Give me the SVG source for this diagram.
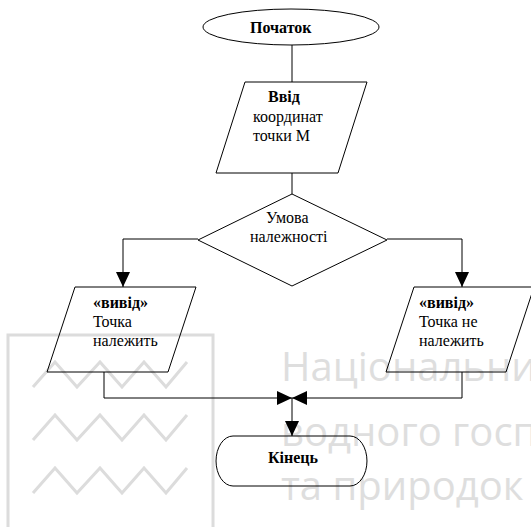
<svg xmlns="http://www.w3.org/2000/svg" width="531" height="527" viewBox="0 0 531 527">
  <style>
    .bg { fill: #ffffff; }
    .mark { fill: none; stroke: #dcdcdc; stroke-width: 3; stroke-linejoin: miter; }
    .mark-text { font-family: "Open Sans", "Noto Sans", sans-serif; font-size: 40px; fill: #dedede; }
    .shape { fill: none; stroke: #000000; stroke-width: 1; }
    .link { fill: none; stroke: #000000; stroke-width: 1; }
    .label { font-family: "Liberation Serif", "Times New Roman", serif; font-size: 16px; fill: #000000; }
    .bold { font-weight: bold; }
  </style>
  <defs>
    <marker id="arrow" markerUnits="userSpaceOnUse" markerWidth="15" markerHeight="14" refX="15" refY="7" orient="auto">
      <path d="M0,0 L15,7 L0,14 Z" fill="#000000"/>
    </marker>
  </defs>

  <rect class="bg" x="0" y="0" width="531" height="527"/>

  <!-- background emblem and lettering -->
  <g id="emblem">
    <rect class="mark" x="8" y="335" width="205" height="195"/>
    <polyline class="mark" points="33,387 55,362 77,387 100,362 122,387 144,362 166,387 187,362"/>
    <polyline class="mark" points="33,440 55,415 77,440 100,415 122,440 144,415 166,440 187,415"/>
    <polyline class="mark" points="33,493 55,468 77,493 100,468 122,493 144,468 166,493 187,468"/>
    <text class="mark-text" x="281" y="381">Національни</text>
    <text class="mark-text" x="281" y="446">водного госп</text>
    <text class="mark-text" x="281" y="500">та природок</text>
  </g>

  <!-- connectors -->
  <g id="connectors">
    <line class="link" x1="292" y1="45" x2="292" y2="82"/>
    <line class="link" x1="292" y1="173" x2="292" y2="194"/>
    <polyline class="link" points="198,239 123,239 123,287" marker-end="url(#arrow)"/>
    <polyline class="link" points="387,239 462,239 462,287" marker-end="url(#arrow)"/>
    <polyline class="link" points="104,372 104,398 292,398" marker-end="url(#arrow)"/>
    <polyline class="link" points="462,372 462,398 292,398" marker-end="url(#arrow)"/>
    <line class="link" x1="292" y1="398" x2="292" y2="436" marker-end="url(#arrow)"/>
  </g>

  <!-- nodes -->
  <g id="start">
    <ellipse class="shape" cx="291" cy="27" rx="88" ry="18"/>
    <text class="label bold" x="250" y="33">Початок</text>
  </g>

  <g id="input">
    <polygon class="shape" points="245,82 367,82 338,173 216,173"/>
    <text class="label bold" x="268" y="102">Ввід</text>
    <text class="label" x="253" y="122">координат</text>
    <text class="label" x="253" y="141">точки М</text>
  </g>

  <g id="condition">
    <polygon class="shape" points="292,194 387,240 292,286 198,240"/>
    <text class="label" x="266" y="223">Умова</text>
    <text class="label" x="250" y="242">належності</text>
  </g>

  <g id="output-yes">
    <polygon class="shape" points="75,287 196,287 168,372 47,372"/>
    <text class="label bold" x="93" y="308">«вивід»</text>
    <text class="label" x="93" y="327">Точка</text>
    <text class="label" x="93" y="346">належить</text>
  </g>

  <g id="output-no">
    <polygon class="shape" points="414,287 534,287 506,372 386,372"/>
    <text class="label bold" x="419" y="308">«вивід»</text>
    <text class="label" x="419" y="327">Точка не</text>
    <text class="label" x="419" y="346">належить</text>
  </g>

  <g id="end">
    <path class="shape" d="M233,436 H350 A17,25 0 0 1 350,486 H233 A17,25 0 0 1 233,436 Z"/>
    <text class="label bold" x="268" y="463">Кінець</text>
  </g>
</svg>
